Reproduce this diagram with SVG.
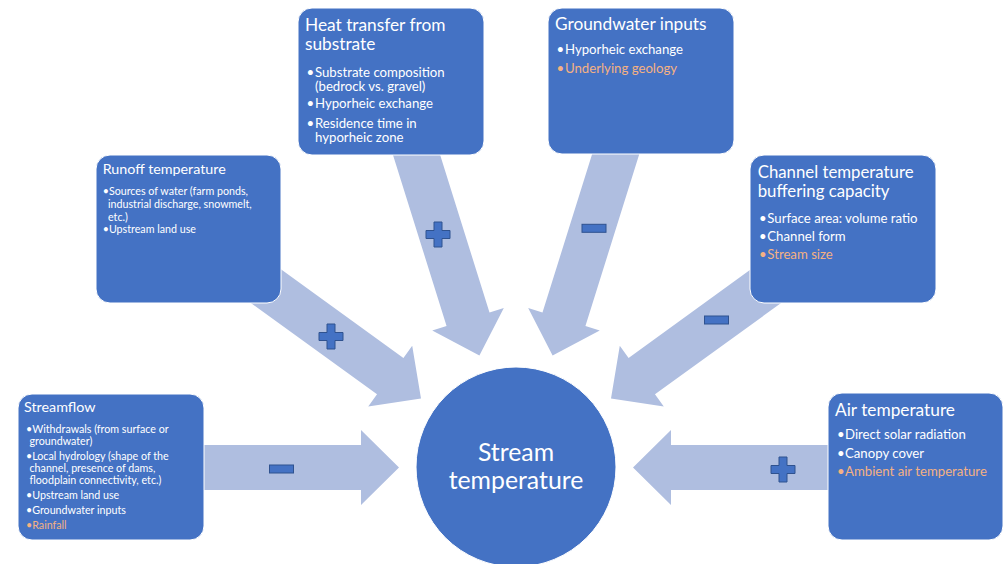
<svg xmlns="http://www.w3.org/2000/svg" xmlns:xlink="http://www.w3.org/1999/xlink" width="1004" height="564" viewBox="0 0 1004 564">
<style>
.box{fill:#4472C4;stroke:#FFFFFF;stroke-width:1}
.arw{fill:#AFBEE0}
.sign{fill:#4472C4;stroke:#2F528F;stroke-width:1}
text{font-family:Lato,"Liberation Sans",sans-serif;fill:#FFFFFF}
.t18{font-size:17.3px}
.t17{font-size:16.8px}
.t14{font-size:14.3px}
.b13{font-size:13.2px}
.b10{font-size:10.7px}
.or{fill:#F4B183}
.ctr{font-size:24.8px;text-anchor:middle}
</style>
<defs>
<path id="arrow" d="M-225,-22.5 H-38 V-37.5 L0,0 L-38,37.5 V22.5 H-225 Z"/>
<path id="plus" d="M-4,-12.5 H4 V-4 H12 V4 H4 V12.5 H-4 V4 H-12 V-4 H-4 Z"/>
<rect id="minus" x="-12" y="-4" width="24" height="8"/>
</defs>
<rect width="1004" height="564" fill="#FFFFFF"/>
<g id="connectors">
<use xlink:href="#arrow" class="arw" transform="translate(399,467.5)"/>
<use xlink:href="#arrow" class="arw" transform="translate(633,467.5) rotate(180)"/>
<use xlink:href="#arrow" class="arw" transform="translate(421,398.4) rotate(35.9)"/>
<use xlink:href="#arrow" class="arw" transform="translate(611,398.4) rotate(144.1)"/>
<use xlink:href="#arrow" class="arw" transform="translate(479.4,355.5) rotate(72.6)"/>
<use xlink:href="#arrow" class="arw" transform="translate(552.6,355.5) rotate(107.4)"/>
<use xlink:href="#minus" class="sign" transform="translate(281.5,469)"/>
<use xlink:href="#plus" class="sign" transform="translate(783,469.5)"/>
<use xlink:href="#plus" class="sign" transform="translate(331,336.5)"/>
<use xlink:href="#plus" class="sign" transform="translate(438,234.5)"/>
<use xlink:href="#minus" class="sign" transform="translate(594,228.3)"/>
<use xlink:href="#minus" class="sign" transform="translate(716.5,320)"/>
</g>
<g id="stream-temperature">
<circle cx="516" cy="467" r="100" class="box"/>
<text class="ctr" x="516" y="461">Stream</text>
<text class="ctr" x="516" y="489">temperature</text>
</g>
<g id="streamflow">
<rect class="box" x="18" y="394" width="186" height="146" rx="14"/>
<text class="t14" x="24" y="411.7">Streamflow</text>
<text class="b10" x="26" y="433.3">•Withdrawals (from surface or</text>
<text class="b10" x="29.5" y="445">groundwater)</text>
<text class="b10" x="26" y="460">•Local hydrology (shape of the</text>
<text class="b10" x="29.5" y="471.7">channel, presence of dams,</text>
<text class="b10" x="29.5" y="484">floodplain connectivity, etc.)</text>
<text class="b10" x="26" y="499.3">•Upstream land use</text>
<text class="b10" x="26" y="514">•Groundwater inputs</text>
<text class="b10 or" x="26" y="529.3">•Rainfall</text>
</g>
<g id="runoff">
<rect class="box" x="96" y="155" width="185" height="148" rx="14"/>
<text class="t14" x="102.7" y="174">Runoff temperature</text>
<text class="b10" x="102.7" y="195">•Sources of water (farm ponds,</text>
<text class="b10" x="108" y="208.3">industrial discharge, snowmelt,</text>
<text class="b10" x="108" y="220.7">etc.)</text>
<text class="b10" x="102.7" y="233.3">•Upstream land use</text>
</g>
<g id="heat-transfer">
<rect class="box" x="298" y="8" width="186" height="147" rx="14"/>
<text class="t18" x="305" y="30.7">Heat transfer from</text>
<text class="t18" x="305" y="50">substrate</text>
<text class="b13" x="306.5" y="76.7">•</text>
<text class="b13" x="315" y="76.7">Substrate composition</text>
<text class="b13" x="315" y="91">(bedrock vs. gravel)</text>
<text class="b13" x="306.5" y="108.3">•</text>
<text class="b13" x="315" y="108.3">Hyporheic exchange</text>
<text class="b13" x="306.5" y="127.7">•</text>
<text class="b13" x="315" y="127.7">Residence time in</text>
<text class="b13" x="315" y="142.3">hyporheic zone</text>
</g>
<g id="groundwater">
<rect class="box" x="548" y="8" width="186" height="146" rx="14"/>
<text class="t18" x="555" y="30">Groundwater inputs</text>
<text class="b13" x="556.5" y="54.3">•</text>
<text class="b13" x="565" y="54.3">Hyporheic exchange</text>
<text class="b13 or" x="556.5" y="73.3">•</text>
<text class="b13 or" x="565" y="73.3">Underlying geology</text>
</g>
<g id="channel-buffering">
<rect class="box" x="750" y="155" width="186" height="148" rx="14"/>
<text class="t17" x="757.7" y="178">Channel temperature</text>
<text class="t17" x="757.7" y="197">buffering capacity</text>
<text class="b13" x="759" y="223.3">•</text>
<text class="b13" x="767.3" y="223.3">Surface area: volume ratio</text>
<text class="b13" x="759" y="240.7">•</text>
<text class="b13" x="767.3" y="240.7">Channel form</text>
<text class="b13 or" x="759" y="259.3">•</text>
<text class="b13 or" x="767.3" y="259.3">Stream size</text>
</g>
<g id="air-temperature">
<rect class="box" x="828" y="393" width="175" height="147" rx="14"/>
<text class="t18" x="835" y="416">Air temperature</text>
<text class="b13" x="837" y="439.3">•</text>
<text class="b13" x="845" y="439.3">Direct solar radiation</text>
<text class="b13" x="837" y="458.3">•</text>
<text class="b13" x="845" y="458.3">Canopy cover</text>
<text class="b13 or" x="837" y="476">•</text>
<text class="b13 or" x="845" y="476">Ambient air temperature</text>
</g>
</svg>
